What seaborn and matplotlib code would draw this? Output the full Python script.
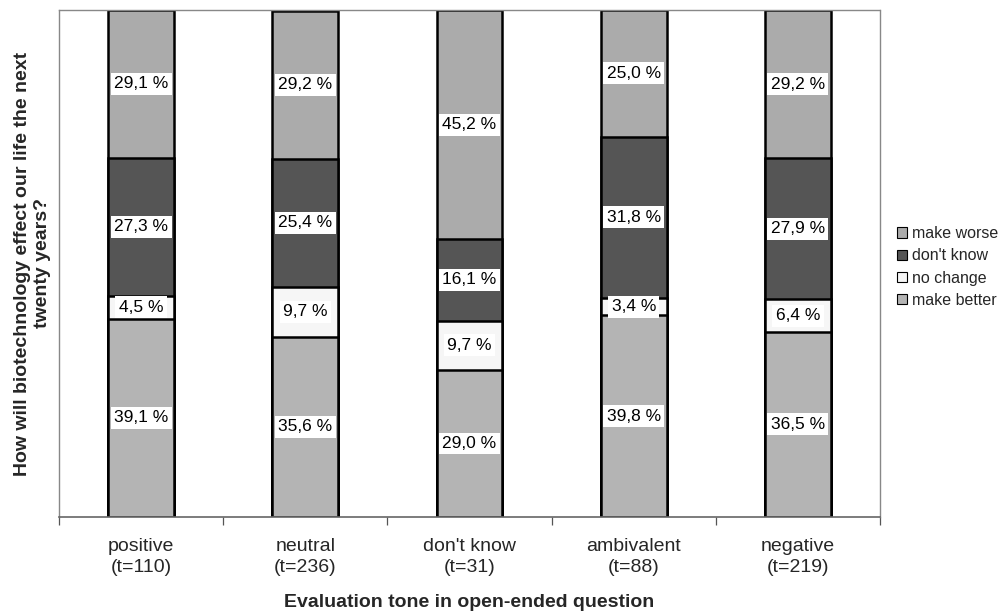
import numpy as np
import matplotlib
matplotlib.use("Agg")
import matplotlib.pyplot as plt
import seaborn as sns
import pandas as pd
from matplotlib.patches import Patch

# data (percent)
categories = ["positive\n(t=110)", "neutral\n(t=236)", "don't know\n(t=31)",
              "ambivalent\n(t=88)", "negative\n(t=219)"]
make_better = [39.1, 35.6, 29.0, 39.8, 36.5]
no_change = [4.5, 9.7, 9.7, 3.4, 6.4]
dont_know = [27.3, 25.4, 16.1, 31.8, 27.9]
make_worse = [29.1, 29.2, 45.2, 25.0, 29.2]

series_names = ["make better", "no change", "don't know", "make worse"]
series_colors = ["#b4b4b4", "#f6f6f6", "#555555", "#ababab"]

sns.set_theme(style="white")
plt.rcParams["font.family"] = ["Liberation Sans", "DejaVu Sans"]

df = pd.DataFrame({"cat": categories, "make better": make_better,
                   "no change": no_change, "don't know": dont_know,
                   "make worse": make_worse})
values = df[series_names].to_numpy()
cum = values.cumsum(axis=1)

fig = plt.figure(figsize=(10.04, 6.14), dpi=100)
ax = fig.add_axes([0.0588, 0.158, 0.8177, 0.8257])

# stacked bars: draw cumulative totals from the top layer down
for i in range(len(series_names) - 1, -1, -1):
    sns.barplot(x=df["cat"], y=cum[:, i], color=series_colors[i], width=0.40,
                edgecolor="black", linewidth=1.8, saturation=1, ax=ax)

# value labels in the middle of each segment
for j in range(len(categories)):
    for i in range(len(series_names)):
        bottom = cum[j, i] - values[j, i]
        mid = bottom + values[j, i] / 2
        ax.text(j, mid, f"{values[j, i]:.1f} %".replace(".", ","),
                ha="center", va="center", fontsize=12.5, color="black", zorder=10,
                bbox=dict(facecolor="white", edgecolor="none", pad=2.5))

ax.set_xlim(-0.5, len(categories) - 0.5)
ax.set_ylim(0, 100)
ax.set_yticks([])
ax.set_xticks(range(len(categories)))
ax.set_xticklabels(categories, fontsize=14, linespacing=1.3)
ax.tick_params(axis="x", which="major", length=0, pad=15)
ax.set_xticks(np.arange(-0.5, len(categories), 1.0), minor=True)
ax.tick_params(axis="x", which="minor", length=6, width=0.9, color="#555555",
               direction="out", bottom=True)

for side in ["top", "left", "right"]:
    ax.spines[side].set_linestyle((0, (1, 1)))
    ax.spines[side].set_color("#888888")
    ax.spines[side].set_linewidth(1.0)
ax.spines["bottom"].set_color("#666666")
ax.spines["bottom"].set_linewidth(1.2)

ax.set_xlabel("Evaluation tone in open-ended question", fontsize=14,
              fontweight="bold", labelpad=13)
ax.set_ylabel("How will biotechnology effect our life the next\ntwenty years?",
              fontsize=14, fontweight="bold", labelpad=6, linespacing=1.2)

handles = [Patch(facecolor=series_colors[i], edgecolor="black", linewidth=0.8,
                 label=series_names[i]) for i in range(len(series_names) - 1, -1, -1)]
fig.legend(handles=handles, loc="upper left", bbox_to_anchor=(0.887, 0.642),
           frameon=False, fontsize=11.5, handlelength=0.6, handleheight=0.6,
           handletextpad=0.35, labelspacing=0.45, borderaxespad=0)

fig.savefig("out.png", dpi=100, facecolor="white")
